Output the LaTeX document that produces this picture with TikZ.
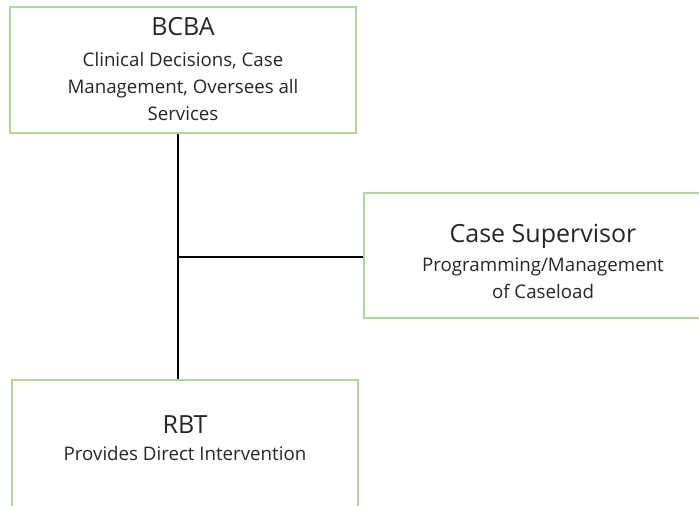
\documentclass[tikz,border=0pt]{standalone}
\usepackage{fontspec}
\setmainfont{Open Sans}
\usetikzlibrary{positioning}

\definecolor{boxgreen}{RGB}{176,214,150}
\newcommand{\headfont}{\fontsize{25}{30}\selectfont}
\newcommand{\subfont}{\fontsize{18.7}{27}\selectfont}

\begin{document}
\begin{tikzpicture}[x=1pt,y=-1pt,
                    box/.style={draw=boxgreen,line width=1.6pt,rectangle,inner sep=0pt},
                    caption/.style={align=center,inner sep=0pt,text=black!85,font=\subfont},
                    link/.style={draw=black,line width=1.4pt}]
  \path[use as bounding box] (0,0) rectangle (699,506);
  \clip (0,0) rectangle (699,506);

  \node[box, minimum width=346pt, minimum height=126pt] (bcba) at (183,70) {};
  \node[box, minimum width=358pt, minimum height=125pt] (sup) at (543,255.5) {};
  \node[box, minimum width=346pt, minimum height=200pt, anchor=north] (rbt) at (185,379) {};

  \node[caption, below=11pt of bcba.north] (bcbatext)
       {{\headfont BCBA}\\[4pt] Clinical Decisions, Case\\Management, Oversees all\\Services};
  \node[caption, below=32pt of sup.north] (suptext)
       {{\headfont Case Supervisor}\\[1.5pt] Programming/Management\\of Caseload};
  \node[caption, below=36pt of rbt.north] (rbttext)
       {{\headfont RBT}\\[0.5pt] Provides Direct Intervention};

  \coordinate (hub) at (178,257);
  \draw[link] (hub |- bcba.south) -- (hub |- rbt.north);
  \draw[link] (hub) -- (hub -| sup.west);
\end{tikzpicture}
\end{document}
